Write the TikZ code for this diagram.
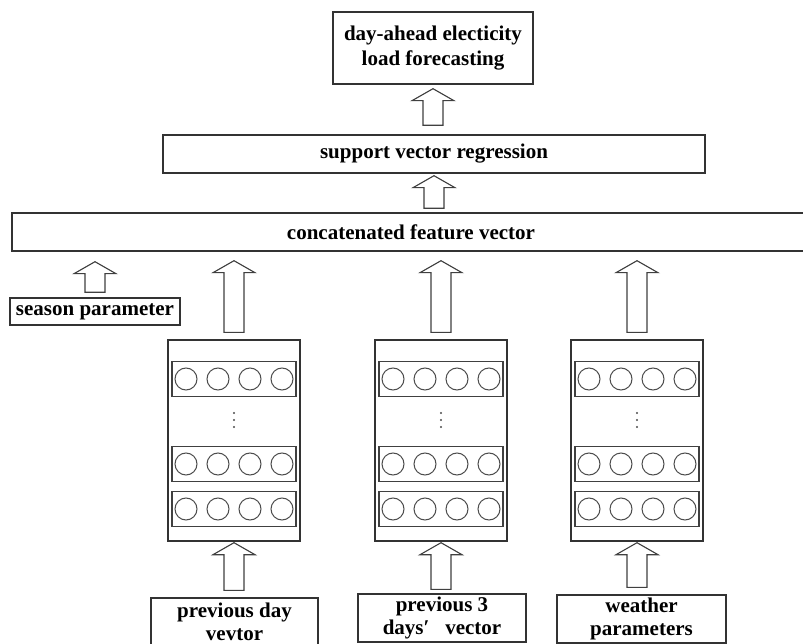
\documentclass[tikz,border=0pt]{standalone}
\usepackage{fontspec}
\setmainfont{Liberation Serif}
\usetikzlibrary{calc}
\tikzset{
  box/.style={draw=black!80, line width=1.4pt, fill=white, inner sep=0pt, align=center,
    font=\fontsize{21}{22.5}\selectfont\bfseries},
  colbox/.style={draw=black!80, line width=1.4pt, inner sep=0pt, minimum width=132pt, minimum height=201pt},
  rowbox/.style={draw=black!75, line width=1.2pt, inner sep=0pt, minimum width=124pt, minimum height=35pt},
  circ/.style={draw=black!70, line width=1pt, circle, inner sep=0pt, minimum size=22pt},
  blockarrow/.style={draw=black!75, line width=1.1pt, fill=white, line join=miter},
}
\newcommand\blockup[5]{% #1 src, #2 dst, #3 x node, #4 bottom gap, #5 top gap
  \draw[blockarrow] let \p1=(#1.north), \p2=(#2.south), \p3=(#3.center) in
   ({\x3-10pt},{\y1+#4pt}) -- ({\x3-10pt},{\y2-#5pt-12pt}) -- ({\x3-21pt},{\y2-#5pt-12pt})
   -- (\x3,{\y2-#5pt}) -- ({\x3+21pt},{\y2-#5pt-12pt}) -- ({\x3+10pt},{\y2-#5pt-12pt})
   -- ({\x3+10pt},{\y1+#4pt}) -- cycle;}
\begin{document}
\begin{tikzpicture}[x=1pt,y=-1pt]
\useasboundingbox (0,0) rectangle (803,644);
\clip (0,0) rectangle (803,644);
\fill[white] (0,0) rectangle (803,644);

\node[box, minimum width=200pt, minimum height=72pt, font=\fontsize{21}{25}\selectfont\bfseries] (out) at (433,48) {day-ahead electicity\\load forecasting};
\node[box, minimum width=542pt, minimum height=38pt] (svr) at (434,154) {support vector regression};
\node[box, minimum width=798pt, minimum height=38pt] (cat) at (411,232) {concatenated feature vector};
\node[box, minimum width=170pt, minimum height=27pt] (season) at (95,311.5) {season parameter};

\node[colbox] (col1) at (234,440.5) {};
\node[colbox] (col2) at (441,440.5) {};
\node[colbox] (col3) at (637,440.5) {};

\foreach \cx/\c in {234/1,441/2,637/3}{
  \foreach \ry/\r in {379/a,464/b,509/c}{
    \node[rowbox] (row\c\r) at (\cx,\ry) {};
    \foreach \dx/\i in {-48/1,-16/2,16/3,48/4}{
      \node[circ] (n\c\r\i) at (\cx+\dx,\ry) {};
    }
  }
  \foreach \dy in {413,420,427}{\fill[black!70] (\cx,\dy) circle (1.1pt);}
}

\node[box, minimum width=167pt, minimum height=48pt] (in1) at (234.5,622) {previous day\\vevtor};
\node[box, minimum width=168pt, minimum height=48pt] (in2) at (442,618) {previous 3\\days′\ \ \ vector};
\node[box, minimum width=169pt, minimum height=48pt] (in3) at (641.5,619) {weather\\parameters};

\blockup{svr}{out}{out}{9}{4}
\blockup{cat}{svr}{svr}{4}{2}
\blockup{season}{cat}{season}{5}{10}
\blockup{col1}{cat}{col1}{7}{9}
\blockup{col2}{cat}{col2}{7}{9}
\blockup{col3}{cat}{col3}{7}{9}
\blockup{in1}{col1}{col1}{7}{1}
\blockup{in2}{col2}{col2}{4}{1}
\blockup{in3}{col3}{col3}{7}{1}
\end{tikzpicture}
\end{document}
